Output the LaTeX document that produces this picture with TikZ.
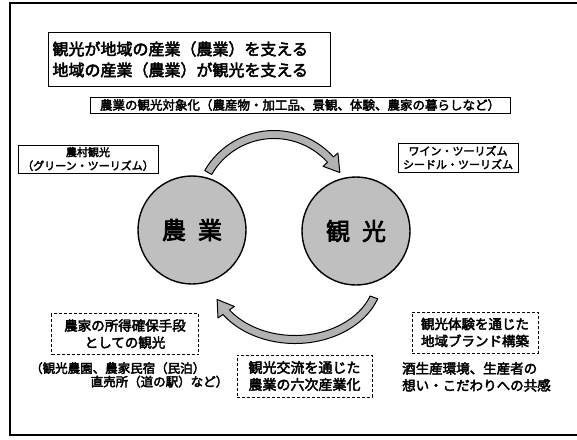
\documentclass[tikz,border=0pt]{standalone}
\usepackage{fontspec}
\setmainfont{Noto Sans CJK JP}[FakeBold=3]
\usetikzlibrary{positioning, calc, arrows.meta}
\tikzset{
  frame/.style={line width=1.4pt},
  mainbox/.style={rectangle, draw=black, line width=1pt, align=left, inner xsep=4pt, inner ysep=3pt},
  solidbox/.style={rectangle, draw=black, line width=0.8pt, align=center, inner xsep=4pt, inner ysep=1.5pt},
  dashbox/.style={rectangle, draw=black, line width=0.7pt, densely dashed, align=center, inner xsep=5pt, inner ysep=3pt},
  plain/.style={align=left, inner sep=0pt},
  circ/.style={circle, draw=black, line width=1.4pt, fill=black!25, minimum size=108pt, inner sep=0pt},
  band/.style={draw=black, line width=1pt, fill=black!30, line join=round}
}

\begin{document}
\begin{tikzpicture}[x=1pt, y=1pt]
  \useasboundingbox (0,0) rectangle (577,-439);
  \fill[white] (0,0) rectangle (577,-439);

  % marco exterior
  \draw [frame] (577,-3) -- (10,-3) -- (10,-435) -- (577,-435);

  % textos superiores
  \node (lead) [mainbox, anchor=north west, text width=274pt, minimum height=54pt, font=\fontsize{16}{21}\selectfont] at (48,-32) {観光が地域の産業（農業）を支える\\地域の産業（農業）が観光を支える};
  \node (target) [solidbox, minimum width=420pt, minimum height=16pt, font=\fontsize{12.5}{14}\selectfont] at (300,-105) {農業の観光対象化（農産物・加工品、景観、体験、農家の暮らしなど）};
  \node (rural) [solidbox, minimum width=140pt, minimum height=28pt, font=\fontsize{11}{13.5}\selectfont] at (88,-159) {農村観光\\（グリーン・ツーリズム）};
  \node (wine) [solidbox, minimum width=120pt, minimum height=29pt, font=\fontsize{11}{13.5}\selectfont] at (458,-157.5) {ワイン・ツーリズム\\シードル・ツーリズム};

  % circulos
  \node (nogyo) [circ, font=\fontsize{24}{26}\selectfont] at (192,-230) {農\hspace{0.5em}業};
  \node (kanko) [circ, font=\fontsize{24}{26}\selectfont] at (356,-231) {観\hspace{0.5em}光};

  % flechas del ciclo
  \coordinate (up) at ($(nogyo)!.5!(kanko)+(0,20)$);
  \coordinate (lo) at ($(nogyo)!.5!(kanko)+(21,-45)$);
  \draw [band] ([shift={(up)}]150:80) arc[start angle=150, end angle=42, radius=80]
    -- ([shift={(up)}]42:86) -- ([shift={(up)}]30:76) -- ([shift={(up)}]42:66)
    -- ([shift={(up)}]42:72) arc[start angle=42, end angle=150, radius=72] -- cycle;
  \draw [band] ([shift={(lo)}]-20:88 and 68) arc[start angle=-20, end angle=-145, x radius=88, y radius=68]
    -- ([shift={(lo)}]-145:94 and 74) -- ([shift={(lo)}]-158:84 and 64) -- ([shift={(lo)}]-145:74 and 54)
    -- ([shift={(lo)}]-145:80 and 60) arc[start angle=-145, end angle=-20, x radius=80, y radius=60] -- cycle;

  % textos inferiores
  \node (income) [dashbox, minimum width=147pt, minimum height=41pt, font=\fontsize{13.5}{17}\selectfont] at (125,-334) {農家の所得確保手段\\としての観光};
  \node (incomeex) [plain, anchor=north west, text width=198pt, font=\fontsize{12.5}{13.5}\selectfont] at (30,-362) {（観光農園、農家民宿（民泊）\\\hspace*{\fill}直売所（道の駅）など）};
  \node (exchange) [dashbox, minimum width=135pt, minimum height=42pt, font=\fontsize{14}{17}\selectfont] at (304.5,-376) {観光交流を通じた\\農業の六次産業化};
  \node (brand) [dashbox, minimum width=126pt, minimum height=41pt, font=\fontsize{13.5}{17}\selectfont] at (475,-332.5) {観光体験を通じた\\地域ブランド構築};
  \node (brandex) [plain, anchor=north west, font=\fontsize{13.5}{17}\selectfont] at (402,-362) {酒生産環境、生産者の\\想い・こだわりへの共感};
\end{tikzpicture}
\end{document}
